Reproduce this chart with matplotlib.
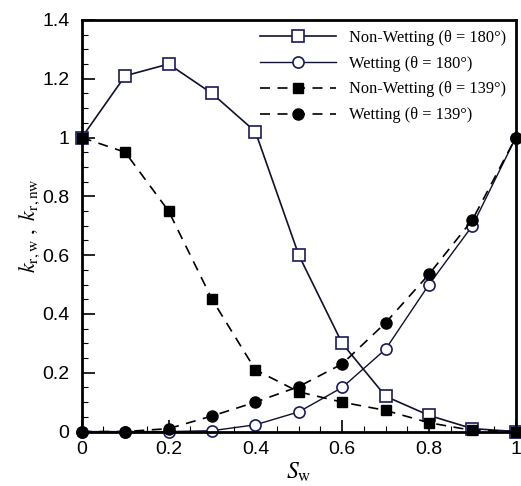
import matplotlib
matplotlib.use('Agg')
import matplotlib.pyplot as plt
from matplotlib.ticker import MultipleLocator

# saturation values
sw = [0.0, 0.1, 0.2, 0.3, 0.4, 0.5, 0.6, 0.7, 0.8, 0.9, 1.0]

# relative permeabilities
nw_180 = [1.0, 1.21, 1.25, 1.15, 1.02, 0.60, 0.30, 0.12, 0.055, 0.01, 0.0]
w_180 = [0.0, 0.0, 0.0, 0.003, 0.023, 0.067, 0.15, 0.28, 0.50, 0.70, 1.0]
nw_139 = [1.0, 0.95, 0.75, 0.45, 0.21, 0.135, 0.10, 0.072, 0.03, 0.004, 0.0]
w_139 = [0.0, 0.0, 0.01, 0.053, 0.10, 0.153, 0.23, 0.37, 0.535, 0.72, 1.0]

labels = ['Non-Wetting (θ = 180°)', 'Wetting (θ = 180°)',
          'Non-Wetting (θ = 139°)', 'Wetting (θ = 139°)']

plt.rcParams['mathtext.fontset'] = 'stix'

fig = plt.figure(figsize=(5.21, 4.86), dpi=100)
ax = fig.add_axes([0.157, 0.112, 0.833, 0.847])

navy = '#1a1a5c'
dash = (0, (6, 4.5))

ax.plot(sw, nw_180, color='#101030', lw=1.2, marker='s', ms=8,
        mfc='white', mec=navy, mew=1.2, label=labels[0], clip_on=False)
ax.plot(sw, w_180, color='#101030', lw=1.0, marker='o', ms=8,
        mfc='white', mec=navy, mew=1.2, label=labels[1], clip_on=False)
ax.plot(sw, nw_139, color='black', lw=1.2, ls=dash, marker='s', ms=7,
        mfc='black', mec='black', label=labels[2], clip_on=False)
ax.plot(sw, w_139, color='black', lw=1.2, ls=dash, marker='o', ms=8,
        mfc='black', mec='black', label=labels[3], clip_on=False)

ax.set_xlim(0, 1)
ax.set_ylim(0, 1.4)
ax.xaxis.set_minor_locator(MultipleLocator(0.05))
ax.yaxis.set_minor_locator(MultipleLocator(0.05))
ax.set_xticks([0, 0.2, 0.4, 0.6, 0.8, 1.0])
ax.set_xticklabels(['0', '0.2', '0.4', '0.6', '0.8', '1'])
ax.set_yticks([0, 0.2, 0.4, 0.6, 0.8, 1.0, 1.2, 1.4])
ax.set_yticklabels(['0', '0.2', '0.4', '0.6', '0.8', '1', '1.2', '1.4'])

ax.tick_params(which='both', direction='in', top=False, right=False)
ax.tick_params(which='major', length=9, width=1.2, labelsize=14)
ax.tick_params(axis='y', which='major', pad=9)
ax.tick_params(axis='x', which='major', pad=7)
ax.tick_params(which='minor', length=4.5, width=0.8)
for lab in ax.get_xticklabels() + ax.get_yticklabels():
    lab.set_family('Liberation Sans')

for s in ax.spines.values():
    s.set_linewidth(2)

ax.set_xlabel(r'$S_\mathrm{w}$', fontsize=17, labelpad=1)
ax.set_ylabel(r'$k_\mathrm{r,w}\ ,\ k_\mathrm{r,nw}$', fontsize=16, labelpad=0)

leg = ax.legend(loc='upper right', frameon=False, handlelength=4.6,
                prop={'family': 'Liberation Serif', 'size': 11.8},
                borderaxespad=0.2, labelspacing=0.6, handletextpad=0.8)

fig.savefig('out.png', dpi=100)
